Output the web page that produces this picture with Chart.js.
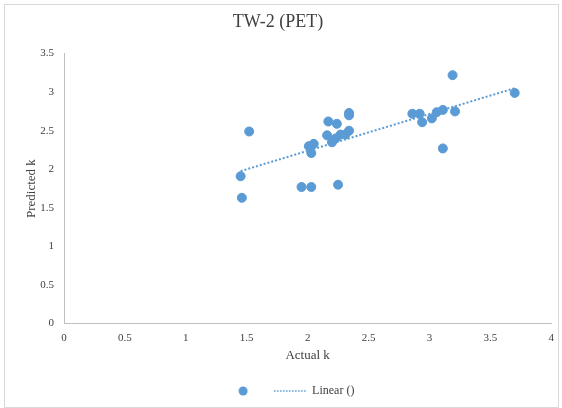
<!DOCTYPE html>
<html>
<head>
<meta charset="utf-8">
<script src="https://cdn.jsdelivr.net/npm/chart.js@4"></script>
<style>
  html, body { margin: 0; padding: 0; background: #fff; }
  #wrap { width: 562px; height: 408px; }
</style>
</head>
<body>
<div id="wrap"><canvas id="scatterChart" width="562" height="408"></canvas></div>
<script>
var actualK = [1.45, 1.46, 1.52, 1.95, 2.03, 2.25, 2.01, 2.05, 2.03, 2.17, 2.24, 2.16, 2.20, 2.23, 2.27,
               2.31, 2.34, 2.34, 2.34, 2.86, 2.92, 2.94, 3.02, 3.06, 3.11, 3.19, 3.21, 3.11, 3.70];
var predictedK = [1.91, 1.63, 2.49, 1.77, 1.77, 1.80, 2.30, 2.33, 2.21, 2.62, 2.59, 2.44, 2.35, 2.40, 2.45,
                  2.45, 2.50, 2.73, 2.70, 2.72, 2.72, 2.61, 2.66, 2.74, 2.77, 3.22, 2.75, 2.27, 2.99];
var seriesNames = ["", "Linear ()"];

var brandBlue = '#5B9BD5';
var textGrey = '#404040';

// points for the scatter
var points = actualK.map(function (x, i) { return {x: x, y: predictedK[i]}; });

// least squares trendline, like excel's "Linear"
var n = actualK.length, sx = 0, sy = 0, sxy = 0, sxx = 0;
for (var i = 0; i < n; i++) {
    sx += actualK[i]; sy += predictedK[i];
    sxy += actualK[i] * predictedK[i]; sxx += actualK[i] * actualK[i];
}
var slope = (n * sxy - sx * sy) / (n * sxx - sx * sx);
var intercept = (sy - slope * sx) / n;
var xMin = Math.min.apply(null, actualK), xMax = Math.max.apply(null, actualK);
var trend = [xMin, xMax].map(function (x) { return {x: x, y: intercept + slope * x}; });

// little canvases used as legend markers
var dotMark = document.createElement('canvas');
dotMark.width = 10; dotMark.height = 10;
var c1 = dotMark.getContext('2d');
c1.fillStyle = brandBlue;
c1.beginPath(); c1.arc(5, 5, 4.5, 0, Math.PI * 2); c1.fill();

var lineMark = document.createElement('canvas');
lineMark.width = 33; lineMark.height = 4;
var c2 = lineMark.getContext('2d');
c2.strokeStyle = brandBlue; c2.lineWidth = 1.5;
c2.setLineDash([1.5, 1.5]);
c2.beginPath(); c2.moveTo(0, 2); c2.lineTo(33, 2); c2.stroke();

function plainTick(value) {
    return String(Number(value.toFixed(2)));
}

var frame = {
    id: 'frame',
    beforeDraw: function (chart) {
        var ctx = chart.ctx;
        ctx.save();
        ctx.fillStyle = '#fff';
        ctx.fillRect(0, 0, chart.width, chart.height);
        ctx.strokeStyle = '#d9d9d9';
        ctx.lineWidth = 1;
        ctx.strokeRect(4.5, 4.5, chart.width - 8, chart.height - 5);
        ctx.restore();
    },
    // excel puts the legend a bit right of centre
    afterLayout: function (chart) {
        chart.legend.left += 13;
        chart.legend.right += 13;
    }
};

var SCATTER = document.getElementById('scatterChart');
var myChart = new Chart(SCATTER, {
    type: 'scatter',
    data: {
        datasets: [
            {
                label: seriesNames[0],
                data: points,
                backgroundColor: brandBlue,
                borderColor: brandBlue,
                pointRadius: 4.5,
                pointHoverRadius: 4.5,
                order: 1
            },
            {
                label: seriesNames[1],
                type: 'line',
                data: trend,
                borderColor: brandBlue,
                borderWidth: 2,
                borderDash: [2, 2],
                pointRadius: 0,
                fill: false,
                order: 2
            }
        ]
    },
    options: {
        responsive: false,
        animation: false,
        layout: { padding: { left: 0, right: 6, top: 0, bottom: 1 } },
        plugins: {
            title: {
                display: true,
                text: 'TW-2 (PET)',
                color: textGrey,
                font: { family: 'Liberation Serif', size: 18, weight: 'normal' },
                padding: { top: 11, bottom: 21 }
            },
            legend: {
                position: 'bottom',
                labels: {
                    usePointStyle: true,
                    pointStyleWidth: 31,
                    padding: 10.5,
                    color: textGrey,
                    font: { family: 'Liberation Serif', size: 12 },
                    generateLabels: function (chart) {
                        return seriesNames.map(function (name, i) {
                            return {
                                text: name,
                                datasetIndex: i,
                                pointStyle: i === 0 ? dotMark : lineMark,
                                fontColor: textGrey,
                                lineWidth: 0
                            };
                        });
                    }
                }
            },
            tooltip: { enabled: false }
        },
        scales: {
            x: {
                type: 'linear',
                min: 0,
                max: 4,
                ticks: {
                    stepSize: 0.5,
                    color: textGrey,
                    padding: 8,
                    font: { family: 'Liberation Serif', size: 11 },
                    callback: plainTick
                },
                grid: { display: false, drawTicks: false },
                border: { display: true, color: '#bfbfbf', width: 1 },
                title: {
                    display: true,
                    text: 'Actual k',
                    color: textGrey,
                    font: { family: 'Liberation Serif', size: 13 },
                    padding: { top: 0, bottom: 11 }
                },
                afterFit: function (scale) { scale.height = 51; }
            },
            y: {
                type: 'linear',
                min: 0,
                max: 3.5,
                ticks: {
                    stepSize: 0.5,
                    color: textGrey,
                    padding: 10,
                    font: { family: 'Liberation Serif', size: 11 },
                    callback: plainTick
                },
                grid: { display: false, drawTicks: false },
                border: { display: true, color: '#bfbfbf', width: 1 },
                title: {
                    display: true,
                    text: 'Predicted k',
                    color: textGrey,
                    font: { family: 'Liberation Serif', size: 13 },
                    padding: { top: 24, bottom: 0 }
                },
                afterFit: function (scale) { scale.width = 64; }
            }
        }
    },
    plugins: [frame]
});
</script>
</body>
</html>
